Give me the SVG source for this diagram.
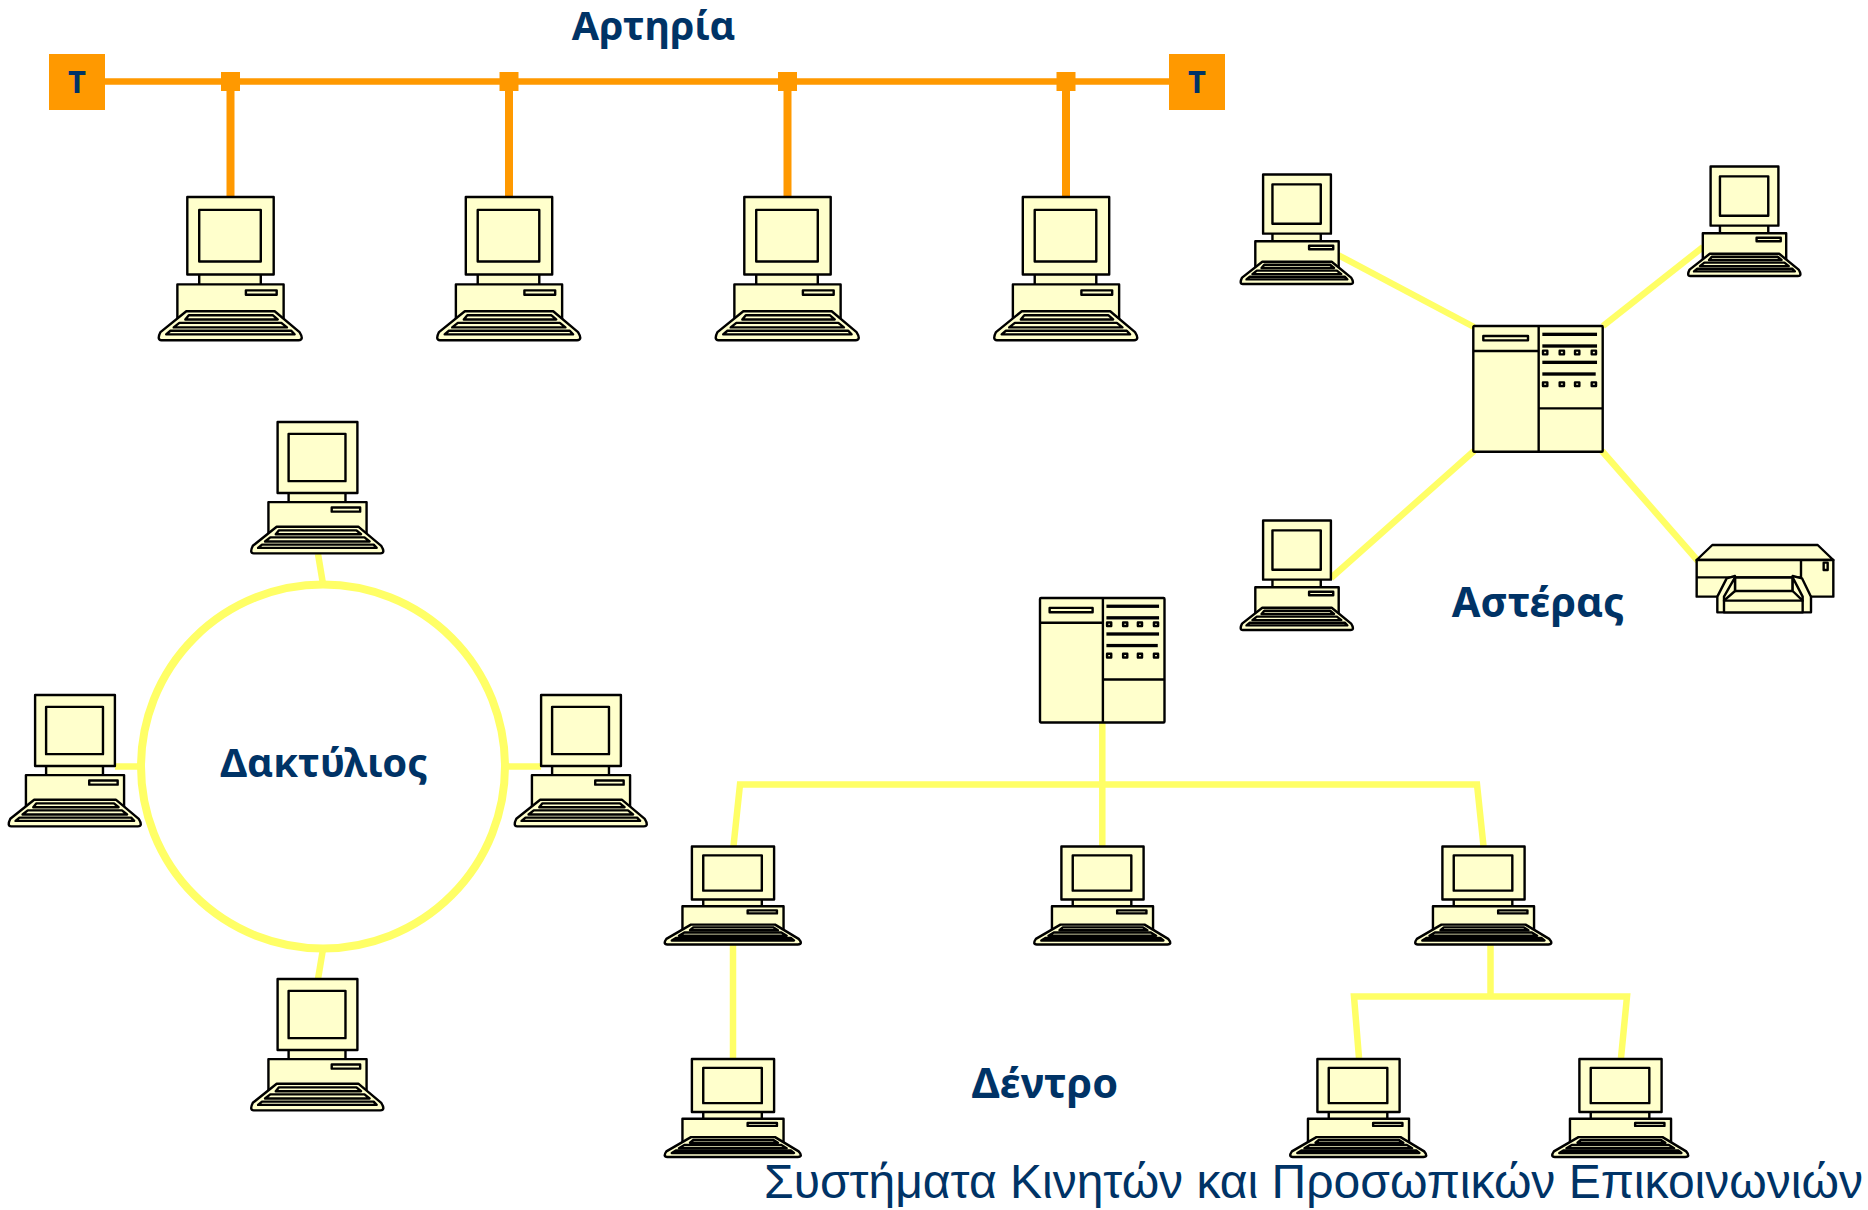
<svg xmlns="http://www.w3.org/2000/svg" xmlns:xlink="http://www.w3.org/1999/xlink" width="1868" height="1210" viewBox="0 0 1868 1210">
<style>
.d rect,.d path,.d line{stroke:#000;stroke-width:2.400;vector-effect:non-scaling-stroke;stroke-linejoin:round}
.d rect,.d path{fill:#FFFFCC}
.d .k{fill:#000;stroke:none}
symbol{overflow:visible}
.y{fill:none;stroke:#FFFF66;stroke-width:6.500}
.o{fill:none;stroke:#FF9900}
.t{font-family:"Noto Sans","Open Sans",sans-serif;font-weight:700;fill:#003366;font-size:40px;text-anchor:middle}
.f{font-family:"Liberation Sans",Arial,sans-serif;fill:#003366;font-size:48px}
</style>
<defs>
<symbol id="pc" class="d" viewBox="0 0 145 145" preserveAspectRatio="none">
<rect x="41" y="76" width="62" height="14"/>
<rect x="19" y="88" width="107" height="40"/>
<rect x="29" y="0" width="87" height="78"/>
<rect x="41" y="13" width="62" height="52"/>
<rect x="88" y="94" width="31" height="4.500"/>
<path d="M28 115H117L142 136Q147 144 141 144.300H3Q-2 144 2 136Z"/>
<path d="M30.500 119H115L120 123.300H27Z"/>
<path d="M21 126.700H123.700L129.300 131.300H15.300Z"/>
<path d="M12 134.700H133.700L137 138.300H7.700Z"/>
</symbol>
<symbol id="server" class="d" viewBox="0 0 388 377" preserveAspectRatio="none">
<rect x="0" y="0" width="388" height="377" rx="3"/>
<line x1="196" y1="0" x2="196" y2="377"/>
<line x1="0" y1="75" x2="196" y2="75"/>
<line x1="196" y1="247" x2="388" y2="247"/>
<rect x="30" y="30" width="134" height="13"/>
<rect class="k" x="207" y="20" width="164" height="10"/>
<rect class="k" x="207" y="55" width="164" height="10"/>
<rect class="k" x="207" y="104" width="164" height="10"/>
<rect class="k" x="207" y="139" width="160" height="10"/>
<rect x="209" y="74" width="13" height="11"/><rect x="259" y="74" width="13" height="11"/><rect x="305" y="74" width="13" height="11"/><rect x="355" y="74" width="13" height="11"/>
<rect x="209" y="169" width="13" height="11"/><rect x="259" y="169" width="13" height="11"/><rect x="305" y="169" width="13" height="11"/><rect x="355" y="169" width="13" height="11"/>
</symbol>
</defs>

<g id="connectors">
<g id="bus-lines">
<line class="o" x1="100" y1="81.500" x2="1175" y2="81.500" stroke-width="6.500"/>
<line class="o" x1="230.500" y1="85" x2="230.500" y2="197" stroke-width="8"/>
<line class="o" x1="509" y1="85" x2="509" y2="197" stroke-width="8"/>
<line class="o" x1="787.500" y1="85" x2="787.500" y2="197" stroke-width="8"/>
<line class="o" x1="1066" y1="85" x2="1066" y2="197" stroke-width="8"/>
</g>
<g id="star-lines">
<line class="y" x1="1338" y1="255" x2="1474" y2="327"/>
<line class="y" x1="1331" y1="578" x2="1474" y2="451"/>
<line class="y" x1="1603" y1="326" x2="1703" y2="247"/>
<line class="y" x1="1602" y1="451" x2="1698" y2="561"/>
</g>
<g id="ring-lines">
<circle class="y" cx="323" cy="766.500" r="182" style="stroke-width:8"/>
<line class="y" x1="318" y1="554" x2="323" y2="584"/>
<line class="y" x1="115" y1="766.500" x2="141" y2="766.500"/>
<line class="y" x1="506" y1="766.500" x2="541" y2="766.500"/>
<line class="y" x1="323" y1="949" x2="318" y2="979"/>
</g>
<g id="tree-lines">
<line class="y" x1="1102.300" y1="723" x2="1102.300" y2="846"/>
<path class="y" d="M733.500 846L740 784.500H1477L1483.500 846"/>
<line class="y" x1="733" y1="945" x2="733" y2="1058"/>
<line class="y" x1="1490.500" y1="945" x2="1490.500" y2="996"/>
<path class="y" d="M1359 1058L1354 996.500H1627L1621 1058"/>
</g>
</g>

<g id="terminator-left"><rect x="49" y="54" width="56" height="56" fill="#FF9900"/><text class="t" x="77" y="93" style="font-size:31px">T</text></g>
<g id="terminator-right"><rect x="1169" y="54" width="56" height="56" fill="#FF9900"/><text class="t" x="1197" y="93" style="font-size:31px">T</text></g>
<g id="taps" fill="#FF9900">
<rect x="221" y="72" width="19" height="19"/><rect x="499.500" y="72" width="19" height="19"/><rect x="778" y="72" width="19" height="19"/><rect x="1056.500" y="72" width="19" height="19"/>
</g>

<g id="bus-pc-1"><use href="#pc" x="158.500" y="197" width="144" height="144"/></g>
<g id="bus-pc-2"><use href="#pc" x="437" y="197" width="144" height="144"/></g>
<g id="bus-pc-3"><use href="#pc" x="715.500" y="197" width="144" height="144"/></g>
<g id="bus-pc-4"><use href="#pc" x="994" y="197" width="144" height="144"/></g>

<g id="star-pc-1"><use href="#pc" x="1240.500" y="174.500" width="113" height="110"/></g>
<g id="star-pc-2"><use href="#pc" x="1688" y="166.500" width="113" height="110"/></g>
<g id="star-pc-3"><use href="#pc" x="1240.500" y="520.500" width="113" height="110"/></g>
<g id="star-server"><use href="#server" x="1473.300" y="326" width="129.400" height="125.700"/></g>
<g id="star-printer" class="d" transform="translate(1440 500) scale(.33333)">
<path d="M770 180L817 135H1133L1180 180Z"/>
<rect x="770" y="180" width="410" height="110"/>
<line x1="1083" y1="180" x2="1083" y2="290"/>
<line x1="770" y1="232" x2="1083" y2="232"/>
<path d="M832 337V290L860 235L885 228V273H1058V228L1086 235L1113 290V337Z"/>
<path d="M852 337V302H1088V337Z"/>
<path d="M852 290L885 232V273L852 302Z"/>
<path d="M1088 290L1058 232V273L1088 302Z"/>
<line x1="885" y1="232" x2="1058" y2="232"/>
<rect x="1151" y="188" width="12" height="22"/>
</g>

<g id="ring-pc-top"><use href="#pc" x="251" y="422" width="133" height="132"/></g>
<g id="ring-pc-left"><use href="#pc" x="8.500" y="695" width="133" height="132"/></g>
<g id="ring-pc-right"><use href="#pc" x="514.500" y="695" width="133" height="132"/></g>
<g id="ring-pc-bottom"><use href="#pc" x="251" y="979" width="133" height="132"/></g>

<g id="tree-server"><use href="#server" x="1040" y="598" width="124.500" height="124.500"/></g>
<g id="tree-pc-1"><use href="#pc" x="664.500" y="846.500" width="137" height="98.500"/></g>
<g id="tree-pc-2"><use href="#pc" x="1034" y="846.500" width="137" height="98.500"/></g>
<g id="tree-pc-3"><use href="#pc" x="1415" y="846.500" width="137" height="98.500"/></g>
<g id="tree-pc-4"><use href="#pc" x="664.500" y="1059" width="137" height="98.500"/></g>
<g id="tree-pc-5"><use href="#pc" x="1290" y="1059" width="137" height="98.500"/></g>
<g id="tree-pc-6"><use href="#pc" x="1552" y="1059" width="137" height="98.500"/></g>

<g id="labels">
<text class="t" x="653.500" y="39.500" style="font-size:39.500px">Αρτηρία</text>
<text class="t" x="1538" y="616.500" style="font-size:41.500px">Αστέρας</text>
<text class="t" x="324" y="776.500">Δακτύλιος</text>
<text class="t" x="1045" y="1098" style="font-size:41.500px">Δέντρο</text>
<text class="f" x="764" y="1198">Συστήματα Κινητών και Προσωπικών Επικοινωνιών</text>
</g>
</svg>
